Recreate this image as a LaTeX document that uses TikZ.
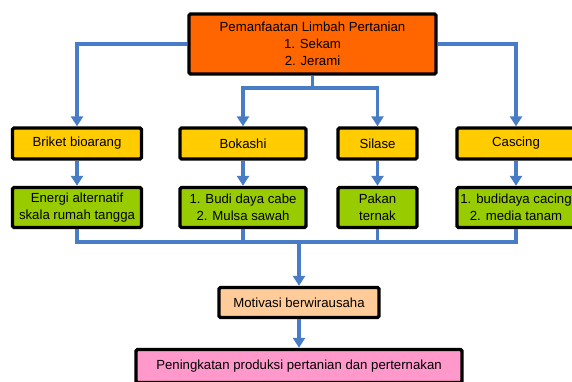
\documentclass[tikz,border=0pt]{standalone}
\usepackage{fontspec}
\setmainfont{Liberation Sans}
\usetikzlibrary{arrows.meta}

\definecolor{oranye}{RGB}{255,102,0}
\definecolor{kuning}{RGB}{255,204,0}
\definecolor{hijau}{RGB}{153,204,0}
\definecolor{krem}{RGB}{255,204,153}
\definecolor{merahmuda}{RGB}{255,153,204}
\definecolor{garis}{RGB}{72,124,198}

\tikzstyle{kotak}=[draw,black,line width=3.4pt,rounded corners=1.5pt,inner sep=0pt,align=center,font=\fontsize{13.2}{17}\selectfont]
\tikzstyle{link}=[garis,line width=3.6pt]
\tikzstyle{panah}=[link,-{Triangle[width=12pt,length=10pt]}]

\begin{document}
\begin{tikzpicture}[x=1pt,y=-1pt]
    \useasboundingbox (0,0) rectangle (572,381);
    % kotak utama
    \node (limbah)[kotak,fill=oranye,minimum width=247pt,minimum height=60pt] at (312.5,44) {Pemanfaatan Limbah Pertanian\\1. Sekam\\2. Jerami};
    % baris produk
    \node (briket)[kotak,fill=kuning,minimum width=129pt,minimum height=31pt] at (77,143.5) {Briket bioarang};
    \node (bokashi)[kotak,fill=kuning,minimum width=126pt,minimum height=31pt] at (243,143.5) {Bokashi};
    \node (silase)[kotak,fill=kuning,minimum width=79pt,minimum height=31pt] at (377.5,143.5) {Silase};
    \node (cascing)[kotak,fill=kuning,minimum width=118pt,minimum height=31pt] at (516,143.5) {Cascing};
    % baris manfaat
    \node (energi)[kotak,fill=hijau,minimum width=129pt,minimum height=40pt] at (77,207.5) {Energi alternatif\\skala rumah tangga};
    \node (budidaya)[kotak,fill=hijau,minimum width=126pt,minimum height=40pt] at (243,207.5) {1. Budi daya cabe\\2. Mulsa sawah};
    \node (pakan)[kotak,fill=hijau,minimum width=79pt,minimum height=40pt] at (377.5,207.5) {Pakan\\ternak};
    \node (cacing)[kotak,fill=hijau,minimum width=118pt,minimum height=40pt] at (516,207.5) {1. budidaya cacing\\2. media tanam};
    % hasil akhir
    \node (motivasi)[kotak,fill=krem,minimum width=160pt,minimum height=30pt] at (299,302.5) {Motivasi berwirausaha};
    \node (hasil)[kotak,fill=merahmuda,minimum width=326pt,minimum height=33pt] at (299,366) {Peningkatan produksi pertanian dan perternakan};
    \coordinate (cabang) at (312.5,88);
    \coordinate (gabung) at (299,242);
    % penghubung
    \draw[panah] (limbah.west) -| (briket.north);
    \draw[panah] (limbah.east) -| (cascing.north);
    \draw[link] (limbah.south) -- (cabang);
    \draw[panah] (cabang) -| (bokashi.north);
    \draw[panah] (cabang) -| (silase.north);
    \draw[panah] (briket) -- (energi);
    \draw[panah] (bokashi) -- (budidaya);
    \draw[panah] (silase) -- (pakan);
    \draw[panah] (cascing) -- (cacing);
    \draw[link] (energi.south) |- (gabung);
    \draw[link] (budidaya.south) |- (gabung);
    \draw[link] (pakan.south) |- (gabung);
    \draw[link] (cacing.south) |- (gabung);
    \draw[panah] (gabung) -- (motivasi);
    \draw[panah] (motivasi) -- (hasil);
\end{tikzpicture}
\end{document}
